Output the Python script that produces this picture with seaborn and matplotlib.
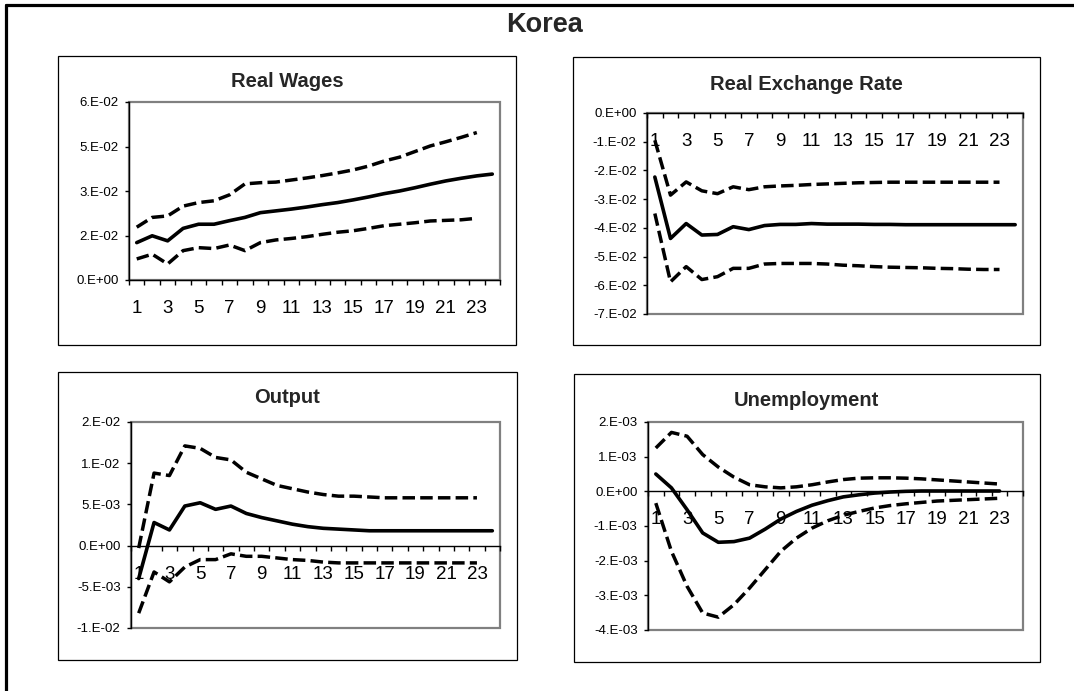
import numpy as np
import pandas as pd
from matplotlib import pyplot as plt
from matplotlib.patches import Rectangle
from matplotlib.lines import Line2D
import seaborn as sns

# impulse responses (mid = estimate, up/low = bands)
periods = list(range(1, 25))
band_periods = list(range(1, 24))
unemp_periods = list(range(1, 24))

wages_mid = [0.0126, 0.0149, 0.0132, 0.0174, 0.0188, 0.0188, 0.0200, 0.0211, 0.0227, 0.0233,
             0.0239, 0.0246, 0.0254, 0.0261, 0.0270, 0.0280, 0.0291, 0.0300, 0.0311, 0.0323,
             0.0334, 0.0343, 0.0351, 0.0357]
wages_up = [0.0178, 0.0211, 0.0216, 0.0249, 0.0261, 0.0267, 0.0287, 0.0324, 0.0328, 0.0330,
            0.0337, 0.0344, 0.0352, 0.0361, 0.0371, 0.0384, 0.0401, 0.0414, 0.0433, 0.0452,
            0.0466, 0.0481, 0.0497]
wages_low = [0.0071, 0.0087, 0.0054, 0.0099, 0.0109, 0.0106, 0.0118, 0.0099, 0.0126, 0.0135,
             0.0140, 0.0146, 0.0154, 0.0161, 0.0166, 0.0174, 0.0183, 0.0188, 0.0193, 0.0199,
             0.0201, 0.0203, 0.0208]

rer_mid = [-0.0223, -0.0437, -0.0385, -0.0425, -0.0423, -0.0396, -0.0406, -0.0392, -0.0388, -0.0388,
           -0.0385, -0.0387, -0.0387, -0.0387, -0.0388, -0.0388, -0.0389, -0.0389, -0.0389, -0.0389,
           -0.0389, -0.0389, -0.0389, -0.0389]
rer_up = [-0.0095, -0.0286, -0.0240, -0.0271, -0.0281, -0.0257, -0.0267, -0.0257, -0.0254, -0.0252,
          -0.0249, -0.0247, -0.0245, -0.0243, -0.0242, -0.0241, -0.0241, -0.0241, -0.0241, -0.0241,
          -0.0241, -0.0241, -0.0241]
rer_low = [-0.0350, -0.0588, -0.0535, -0.0580, -0.0570, -0.0541, -0.0541, -0.0526, -0.0524, -0.0524,
           -0.0524, -0.0526, -0.0530, -0.0532, -0.0535, -0.0537, -0.0538, -0.0539, -0.0541, -0.0542,
           -0.0544, -0.0545, -0.0545]

output_mid = [-0.0040, 0.0028, 0.0019, 0.0048, 0.0052, 0.0044, 0.0048, 0.0039, 0.0034, 0.0030,
              0.0026, 0.0023, 0.0021, 0.0020, 0.0019, 0.0018, 0.0018, 0.0018, 0.0018, 0.0018,
              0.0018, 0.0018, 0.0018, 0.0018]
output_up = [-0.0003, 0.0088, 0.0085, 0.0121, 0.0118, 0.0107, 0.0104, 0.0089, 0.0081, 0.0073,
             0.0069, 0.0065, 0.0062, 0.0060, 0.0060, 0.0059, 0.0058, 0.0058, 0.0058, 0.0058,
             0.0058, 0.0058, 0.0058]
output_low = [-0.0082, -0.0032, -0.0044, -0.0026, -0.0017, -0.0017, -0.0010, -0.0013, -0.0013, -0.0015,
              -0.0017, -0.0018, -0.0020, -0.0021, -0.0021, -0.0021, -0.0021, -0.0021, -0.0021, -0.0021,
              -0.0021, -0.0021, -0.0021]

unemp_mid = [0.00050, 0.00010, -0.00053, -0.00120, -0.00147, -0.00145, -0.00135, -0.00109, -0.00080,
             -0.00058, -0.00040, -0.00027, -0.00016, -0.00010, -0.00005, -0.00002, 0.0, 0.00001,
             0.00001, 0.00001, 0.00001, 0.00001, 0.00001]
unemp_up = [0.00125, 0.00170, 0.00159, 0.00106, 0.00070, 0.00041, 0.00019, 0.00013, 0.00010, 0.00013,
            0.00019, 0.00027, 0.00034, 0.00038, 0.00039, 0.00039, 0.00038, 0.00036, 0.00033, 0.00030,
            0.00027, 0.00024, 0.00021]
unemp_low = [-0.00034, -0.00173, -0.00274, -0.00351, -0.00363, -0.00327, -0.00279, -0.00226, -0.00173,
             -0.00135, -0.00106, -0.00085, -0.00069, -0.00058, -0.00048, -0.00041, -0.00036, -0.00032,
             -0.00028, -0.00026, -0.00024, -0.00022, -0.00020]

# axis ticks and labels
wages_yticks = [0, 0.015, 0.03, 0.045, 0.06]
wages_ylabels = ['0.E+00', '2.E-02', '3.E-02', '5.E-02', '6.E-02']
rer_yticks = [-0.07, -0.06, -0.05, -0.04, -0.03, -0.02, -0.01, 0]
rer_ylabels = ['-7.E-02', '-6.E-02', '-5.E-02', '-4.E-02', '-3.E-02', '-2.E-02', '-1.E-02', '0.E+00']
output_yticks = [-0.01, -0.005, 0, 0.005, 0.01, 0.015]
output_ylabels = ['-1.E-02', '-5.E-03', '0.E+00', '5.E-03', '1.E-02', '2.E-02']
unemp_yticks = [-0.004, -0.003, -0.002, -0.001, 0, 0.001, 0.002]
unemp_ylabels = ['-4.E-03', '-3.E-03', '-2.E-03', '-1.E-03', '0.E+00', '1.E-03', '2.E-03']
xtick_labels = [str(p) if p % 2 == 1 else '' for p in periods]

fig_title = 'Korea'
panel_titles = ['Real Wages', 'Real Exchange Rate', 'Output', 'Unemployment']

# 画图
sns.set_style("white")
plt.rcParams['font.family'] = ['Liberation Sans', 'DejaVu Sans']

W, H = 1074, 691
fig = plt.figure(figsize=(W / 100, H / 100), dpi=100)


def px_rect(x0, y0, x1, y1):
    # pixel box (top-left origin) -> figure fraction
    return [x0 / W, 1 - y1 / H, (x1 - x0) / W, (y1 - y0) / H]


def draw_panel(rect, mid_x, mid, up, low, yticks, ylabels):
    ax = fig.add_axes(rect)
    dash = (0, (3.6, 1.5))
    sns.lineplot(x=band_periods, y=up, ax=ax, color='black', linewidth=2.5, linestyle=dash)
    sns.lineplot(x=band_periods, y=low, ax=ax, color='black', linewidth=2.5, linestyle=dash)
    sns.lineplot(x=mid_x, y=mid, ax=ax, color='black', linewidth=2.6, solid_joinstyle='round')
    ax.set_xlim(0.5, 24.5)
    ax.set_ylim(yticks[0], yticks[-1])
    ax.set_yticks(yticks)
    ax.set_yticklabels(ylabels)
    ax.set_xticks(periods)
    ax.set_xticklabels(xtick_labels)
    ax.set_xticks(np.arange(0.5, 25, 1), minor=True)
    ax.tick_params(axis='x', which='major', bottom=True, length=0, pad=14.5, labelsize=13.5,
                   labelcolor='black')
    ax.tick_params(axis='x', which='minor', bottom=True, length=3.5, width=1, direction='out', color='black')
    ax.tick_params(axis='y', which='major', left=True, length=3, width=1, direction='out',
                   color='black', pad=4.5, labelcolor='black', labelsize=9.5)
    ax.set_xlabel('')
    ax.set_ylabel('')
    ax.spines['top'].set_visible(False)
    ax.spines['right'].set_visible(False)
    ax.spines['left'].set_color('black')
    ax.spines['left'].set_linewidth(1)
    ax.spines['bottom'].set_position(('data', 0))
    ax.spines['bottom'].set_color('black')
    ax.spines['bottom'].set_linewidth(1)
    ax.spines['left'].set_zorder(3)
    ax.spines['bottom'].set_zorder(3)
    # grey plot-area border
    ax.add_patch(Rectangle((0, 0), 1, 1, transform=ax.transAxes, fill=False,
                           ec='#808080', lw=1.6, zorder=0.5, clip_on=False))
    return ax


draw_panel(px_rect(129, 102, 500, 280), periods, wages_mid, wages_up, wages_low,
           wages_yticks, wages_ylabels)
draw_panel(px_rect(647, 113, 1023, 314), periods, rer_mid, rer_up, rer_low,
           rer_yticks, rer_ylabels)
draw_panel(px_rect(131, 422, 500, 628), periods, output_mid, output_up, output_low,
           output_yticks, output_ylabels)
draw_panel(px_rect(648, 422, 1023, 630), unemp_periods, unemp_mid, unemp_up, unemp_low,
           unemp_yticks, unemp_ylabels)

# chart boxes around each panel
for box in [(58, 56, 516, 345), (573, 57, 1040, 345), (58, 372, 517, 660), (574, 374, 1040, 662)]:
    x0, y0, w, h = px_rect(*box)
    fig.add_artist(Rectangle((x0, y0), w, h, transform=fig.transFigure, fill=False,
                             ec='black', lw=0.9))

# outer frame (top and left edge only)
fig.add_artist(Line2D([6 / W, 1], [1 - 5 / H, 1 - 5 / H], transform=fig.transFigure,
                      color='black', lw=2.3))
fig.add_artist(Line2D([6 / W, 6 / W], [0, 1 - 5 / H], transform=fig.transFigure,
                      color='black', lw=2.3))

# titles
fig.text(545 / W, 1 - 32 / H, fig_title, ha='center', va='baseline', fontsize=19.5, fontweight='bold')
title_pos = [(287, 87), (806.5, 90), (287, 403), (806.5, 406)]
for (tx, ty), t in zip(title_pos, panel_titles):
    fig.text(tx / W, 1 - ty / H, t, ha='center', va='baseline', fontsize=14.5, fontweight='bold')

plt.savefig('out.png', dpi=100)
